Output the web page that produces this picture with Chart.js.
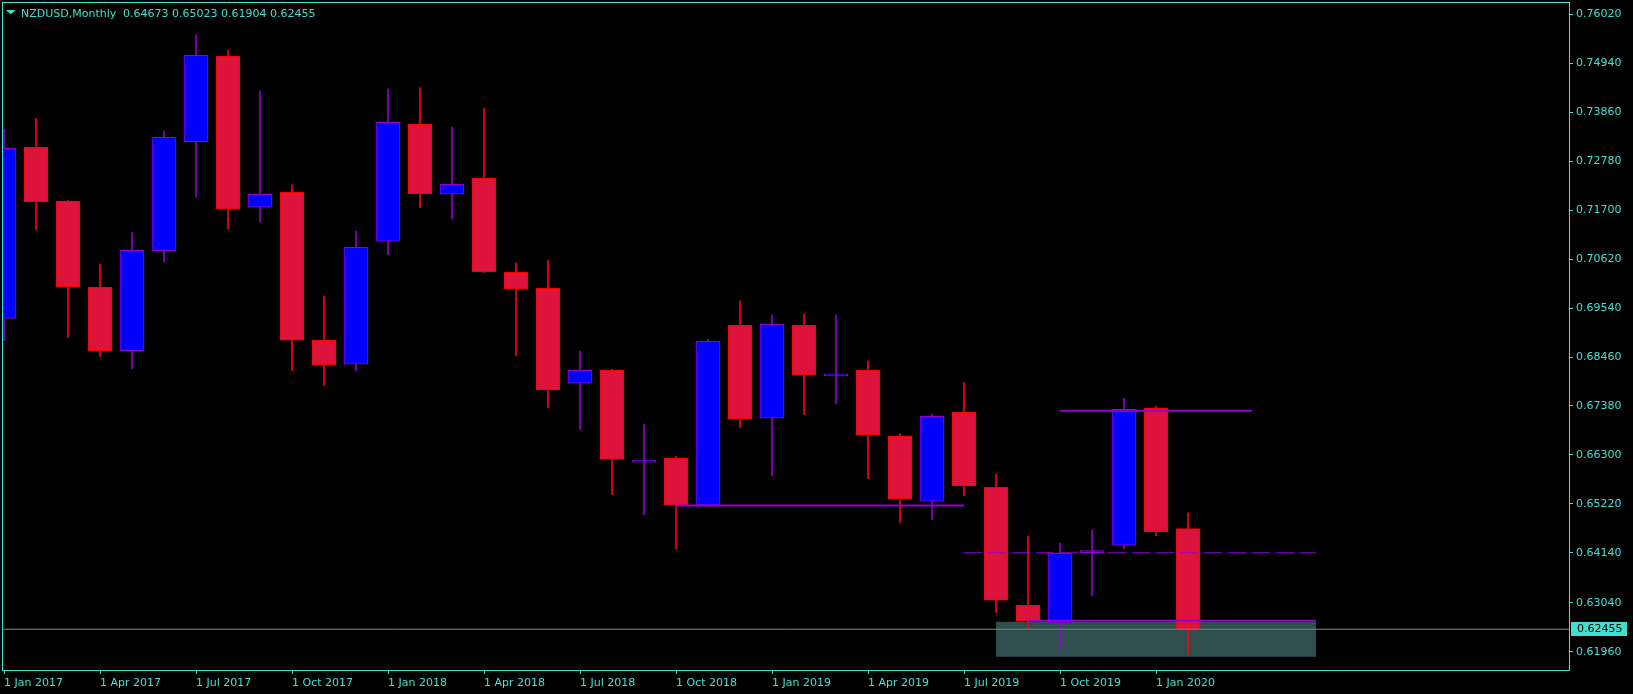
<!DOCTYPE html>
<html>
<head>
<meta charset="utf-8">
<title>NZDUSD,Monthly</title>
<script src="https://cdn.jsdelivr.net/npm/chart.js@4.4.1/dist/chart.umd.min.js"></script>
<style>
    html, body { margin: 0; padding: 0; background: #000; overflow: hidden; }
    #chartBox { position: relative; width: 1633px; height: 694px; }
</style>
</head>
<body>
<div id="chartBox"><canvas id="priceChart"></canvas></div>
<script>
/**
 * NZDUSD monthly candles, Jan 2017 - Feb 2020
 * values
 */
const months = [
    'Jan 2017', 'Feb 2017', 'Mar 2017', 'Apr 2017', 'May 2017', 'Jun 2017',
    'Jul 2017', 'Aug 2017', 'Sep 2017', 'Oct 2017', 'Nov 2017', 'Dec 2017',
    'Jan 2018', 'Feb 2018', 'Mar 2018', 'Apr 2018', 'May 2018', 'Jun 2018',
    'Jul 2018', 'Aug 2018', 'Sep 2018', 'Oct 2018', 'Nov 2018', 'Dec 2018',
    'Jan 2019', 'Feb 2019', 'Mar 2019', 'Apr 2019', 'May 2019', 'Jun 2019',
    'Jul 2019', 'Aug 2019', 'Sep 2019', 'Oct 2019', 'Nov 2019', 'Dec 2019',
    'Jan 2020', 'Feb 2020'
];

const opens = [
    0.69314, 0.73086, 0.71902, 0.69998, 0.68600, 0.70806, 0.73210, 0.75100,
    0.71763, 0.72094, 0.68829, 0.68300, 0.71013, 0.73594, 0.72050, 0.72403,
    0.70329, 0.69976, 0.67881, 0.68167, 0.66140, 0.66226, 0.65190, 0.69160,
    0.67109, 0.69160, 0.68045, 0.68167, 0.66712, 0.65278, 0.67241, 0.65587,
    0.62984, 0.62593, 0.64144, 0.64307, 0.67329, 0.64673
];

const highs = [
    0.73490, 0.73733, 0.71924, 0.70512, 0.71218, 0.73446, 0.75563, 0.75233,
    0.74328, 0.72255, 0.69806, 0.71240, 0.74372, 0.74405, 0.73534, 0.73953,
    0.70534, 0.70600, 0.68593, 0.68196, 0.66983, 0.66277, 0.68851, 0.69696,
    0.69387, 0.69409, 0.69387, 0.68373, 0.66778, 0.67203, 0.67909, 0.65880,
    0.64512, 0.64358, 0.64645, 0.67556, 0.67380, 0.65023
];

const lows = [
    0.68820, 0.71262, 0.68886, 0.68467, 0.68196, 0.70556, 0.71990, 0.71284,
    0.71439, 0.68159, 0.67821, 0.68159, 0.70717, 0.71754, 0.71511, 0.70320,
    0.68489, 0.67342, 0.66857, 0.65423, 0.64982, 0.64226, 0.65163, 0.66901,
    0.65842, 0.67188, 0.67431, 0.65776, 0.64806, 0.64872, 0.65401, 0.62821,
    0.62461, 0.62020, 0.63196, 0.64226, 0.64519, 0.61904
];

const closes = [
    0.73064, 0.71886, 0.70011, 0.68600, 0.70814, 0.73307, 0.75116, 0.71732,
    0.72050, 0.68829, 0.68291, 0.70881, 0.73638, 0.72063, 0.72270, 0.70342,
    0.69967, 0.67739, 0.68167, 0.66200, 0.66140, 0.65190, 0.68807, 0.67100,
    0.69182, 0.68070, 0.68045, 0.66747, 0.65335, 0.67153, 0.65622, 0.63094,
    0.62637, 0.64131, 0.64144, 0.67307, 0.64607, 0.62455
];

// price scale labels on the right
const priceTicks = [
    0.76020, 0.74940, 0.73860, 0.72780, 0.71700, 0.70620, 0.69540,
    0.68460, 0.67380, 0.66300, 0.65220, 0.64140, 0.63040, 0.61960
];

// header: symbol, period and OHLC of the last bar
const symbolName = 'NZDUSD,Monthly';
const lastBar = [0.64673, 0.65023, 0.61904, 0.62455];
const bidPrice = 0.62455;

// objects drawn on the chart (x = bar number from Jan 2017)
const supportLine = { from: 21, to: 30, price: 0.65185 };
const resistLine  = { from: 33, to: 39, price: 0.67276 };
const dashedLine  = { from: 30, to: 41, price: 0.64142 };
const zoneLine    = { from: 32, to: 41, price: 0.62644 };
const zoneBox     = { from: 31, to: 41, high: 0.62618, low: 0.61850 };

const FG = '#40E0D0';
const BULL_FILL = '#0000FF';
const BULL_LINE = '#9400D3';
const BEAR_FILL = '#DC143C';
const BEAR_LINE = '#FF0000';

document.addEventListener('DOMContentLoaded', function() {
    Chart.defaults.font.family = '"DejaVu Sans", sans-serif';
    Chart.defaults.font.size = 11;
    Chart.defaults.color = FG;

    buildChart();
});

/**
 * Candle datasets
 * Bodies and wicks are two floating bar series on the same x
 */
function candleDatasets() {
    const bodies = [];
    const wicks = [];
    const fills = [];
    const lines = [];

    months.forEach((m, i) => {
        const bull = closes[i] >= opens[i];
        bodies.push({ x: i, y: [opens[i], closes[i]] });
        wicks.push({ x: i, y: [lows[i], highs[i]] });
        fills.push(bull ? BULL_FILL : BEAR_FILL);
        lines.push(bull ? BULL_LINE : BEAR_LINE);
    });

    return [
        {
            type: 'bar',
            label: 'body',
            data: bodies,
            backgroundColor: fills,
            borderColor: lines,
            borderWidth: 1,
            borderSkipped: false,
            barThickness: 24,
            minBarLength: 2,
            grouped: false,
            clip: 0,
            order: 3
        },
        {
            type: 'bar',
            label: 'wick',
            data: wicks,
            backgroundColor: lines,
            borderWidth: 0,
            barThickness: 1,
            grouped: false,
            clip: 0,
            order: 4
        }
    ];
}

/**
 * Trend lines and the zone rectangle
 */
function objectDatasets(xMin, xMax) {
    const seg = (obj) => [{ x: obj.from, y: obj.price }, { x: obj.to, y: obj.price }];
    const base = {
        type: 'line',
        pointRadius: 0,
        borderColor: BULL_LINE,
        borderWidth: 2,
        fill: false,
        order: 1
    };

    return [
        Object.assign({}, base, { label: 'support', data: seg(supportLine) }),
        Object.assign({}, base, { label: 'resist', data: seg(resistLine) }),
        Object.assign({}, base, { label: 'zone line', data: seg(zoneLine) }),
        Object.assign({}, base, {
            label: 'dashed',
            data: seg(dashedLine),
            borderWidth: 1,
            borderDash: [18, 6]
        }),
        {
            type: 'line',
            label: 'bid',
            data: [{ x: xMin, y: bidPrice }, { x: xMax, y: bidPrice }],
            borderColor: '#778899',
            borderWidth: 1,
            pointRadius: 0,
            order: 2
        },
        {
            type: 'line',
            label: 'zone',
            data: [{ x: zoneBox.from, y: zoneBox.high }, { x: zoneBox.to, y: zoneBox.high }],
            borderColor: 'rgba(0,0,0,0)',
            backgroundColor: '#2F4F4F',
            pointRadius: 0,
            fill: { value: zoneBox.low },
            order: 5
        }
    ];
}

/**
 * Frame, header line and bid price tag
 */
const terminalOverlay = {
    id: 'terminalOverlay',
    afterDraw(chart) {
        const { ctx, chartArea: a } = chart;
        const y = chart.scales.y;

        ctx.save();
        ctx.strokeStyle = FG;
        ctx.lineWidth = 1;
        ctx.strokeRect(a.left + 0.5, a.top + 0.5, a.right - a.left, a.bottom - a.top);

        // little menu triangle + header
        ctx.fillStyle = FG;
        ctx.beginPath();
        ctx.moveTo(6, 10);
        ctx.lineTo(15.5, 10);
        ctx.lineTo(10.75, 14.5);
        ctx.closePath();
        ctx.fill();

        ctx.font = '11px "DejaVu Sans", sans-serif';
        ctx.textBaseline = 'alphabetic';
        ctx.textAlign = 'left';
        ctx.fillText(symbolName, 21, 17);
        ctx.fillText(lastBar.map(v => v.toFixed(5)).join(' '), 123, 17);

        // bid tag on the price scale
        const by = Math.round(y.getPixelForValue(bidPrice));
        ctx.fillStyle = FG;
        ctx.fillRect(a.right + 2, by - 7, 56, 14);
        ctx.fillStyle = '#000';
        ctx.textBaseline = 'middle';
        ctx.fillText(bidPrice.toFixed(5), a.right + 8, by);
        ctx.restore();
    }
};

/**
 * Build Chart
 */
function buildChart() {
    // 32px per bar, bar 0 sits 2px right of the frame
    const xMin = -0.0625;
    const xMax = 48.906;
    const xTicks = months.map((m, i) => i).filter(i => i % 3 === 0);

    const ctx = document.getElementById('priceChart').getContext('2d');
    new Chart(ctx, {
        type: 'bar',
        data: {
            datasets: candleDatasets().concat(objectDatasets(xMin, xMax))
        },
        options: {
            responsive: true,
            maintainAspectRatio: false,
            animation: false,
            events: [],
            layout: { padding: { top: 2, left: 2, right: 0, bottom: 0 } },
            plugins: {
                legend: { display: false },
                tooltip: { enabled: false }
            },
            scales: {
                x: {
                    type: 'linear',
                    min: xMin,
                    max: xMax,
                    offset: false,
                    afterFit: (scale) => {
                        scale.height = 24;
                        scale.paddingLeft = 0;
                        scale.paddingRight = 0;
                    },
                    afterBuildTicks: (scale) => {
                        scale.ticks = xTicks.map(v => ({ value: v }));
                    },
                    grid: {
                        offset: false,
                        drawOnChartArea: false,
                        color: FG,
                        tickLength: 4
                    },
                    border: { display: false },
                    ticks: {
                        autoSkip: false,
                        maxRotation: 0,
                        align: 'start',
                        padding: 3,
                        color: FG,
                        callback: (v) => '1 ' + months[v]
                    }
                },
                y: {
                    type: 'linear',
                    position: 'right',
                    min: 0.61556,
                    max: 0.76291,
                    afterFit: (scale) => {
                        scale.width = 64;
                        scale.paddingTop = 0;
                        scale.paddingBottom = 0;
                    },
                    afterBuildTicks: (scale) => {
                        scale.ticks = priceTicks.map(v => ({ value: v }));
                    },
                    grid: {
                        drawOnChartArea: false,
                        color: FG,
                        tickLength: 4
                    },
                    border: { display: false },
                    ticks: {
                        padding: 3,
                        color: FG,
                        callback: (v) => v.toFixed(5)
                    }
                }
            }
        },
        plugins: [terminalOverlay]
    });
}
</script>
</body>
</html>
